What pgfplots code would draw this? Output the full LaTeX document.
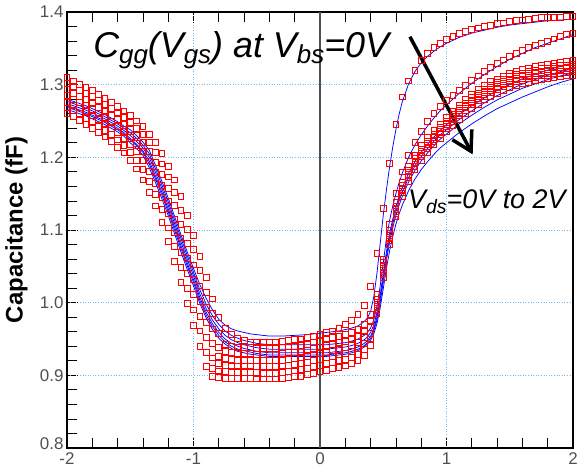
\documentclass[border=0pt]{standalone}
\usepackage{fontspec}
\setmainfont{Liberation Sans}
\usepackage{pgfplots}
\usepackage{pgfplotstable}
\pgfplotsset{compat=1.18}
\usetikzlibrary{arrows.meta}

\definecolor{gridblue}{RGB}{110,190,240}
\definecolor{ticklab}{RGB}{80,80,80}
\definecolor{zeroline}{RGB}{80,80,80}
\newcommand{\subT}[1]{\raisebox{-6.5pt}{\fontsize{26}{26}\selectfont #1}}
\newcommand{\subV}[1]{\raisebox{-5pt}{\fontsize{19.5}{19.5}\selectfont #1}}

% measured Cgg (squares), Vds = 0 ... 2 V
\pgfplotstableread{
x     r0    r1    r2    r3    r4    r5    r6
-2.00 1.310 1.302 1.293 1.285 1.276 1.268 1.260
-1.95 1.305 1.297 1.288 1.280 1.272 1.264 1.256
-1.90 1.300 1.292 1.284 1.276 1.268 1.260 1.251
-1.85 1.296 1.288 1.280 1.272 1.263 1.254 1.245
-1.80 1.292 1.284 1.275 1.266 1.257 1.249 1.240
-1.75 1.287 1.278 1.269 1.261 1.252 1.243 1.234
-1.70 1.281 1.273 1.264 1.255 1.246 1.237 1.228
-1.65 1.276 1.267 1.258 1.249 1.240 1.231 1.222
-1.60 1.270 1.261 1.252 1.243 1.234 1.224 1.214
-1.55 1.264 1.255 1.246 1.236 1.226 1.216 1.206
-1.50 1.258 1.248 1.238 1.228 1.218 1.207 1.196
-1.45 1.250 1.240 1.230 1.219 1.208 1.196 1.184
-1.40 1.242 1.231 1.220 1.208 1.196 1.183 1.169
-1.35 1.232 1.220 1.208 1.195 1.181 1.167 1.152
-1.30 1.220 1.207 1.193 1.179 1.164 1.149 1.133
-1.25 1.205 1.191 1.176 1.161 1.145 1.128 1.110
-1.20 1.188 1.173 1.157 1.140 1.122 1.103 1.084
-1.15 1.169 1.152 1.134 1.115 1.096 1.077 1.057
-1.10 1.146 1.127 1.108 1.089 1.069 1.049 1.028
-1.05 1.120 1.101 1.081 1.061 1.040 1.020 0.999
-1.00 1.093 1.073 1.052 1.032 1.011 0.990 0.969
-0.95 1.064 1.044 1.023 1.002 0.981 0.961 0.940
-0.90 1.035 1.014 0.993 0.973 0.952 0.932 0.912
-0.85 1.005 0.985 0.964 0.944 0.924 0.909 0.899
-0.80 0.980 0.958 0.938 0.926 0.916 0.906 0.897
-0.75 0.965 0.943 0.933 0.923 0.914 0.905 0.896
-0.70 0.956 0.940 0.931 0.922 0.913 0.904 0.896
-0.65 0.951 0.939 0.930 0.921 0.913 0.904 0.896
-0.60 0.948 0.938 0.930 0.921 0.913 0.904 0.896
-0.55 0.946 0.938 0.930 0.921 0.913 0.904 0.896
-0.50 0.946 0.937 0.929 0.920 0.912 0.904 0.895
-0.45 0.946 0.937 0.929 0.920 0.912 0.903 0.895
-0.40 0.946 0.937 0.929 0.920 0.912 0.903 0.895
-0.35 0.946 0.937 0.929 0.920 0.912 0.903 0.895
-0.30 0.947 0.938 0.930 0.921 0.913 0.904 0.896
-0.25 0.948 0.939 0.931 0.922 0.914 0.905 0.897
-0.20 0.949 0.940 0.932 0.923 0.915 0.906 0.898
-0.15 0.950 0.941 0.933 0.924 0.916 0.908 0.899
-0.10 0.952 0.943 0.935 0.926 0.918 0.910 0.901
-0.05 0.954 0.945 0.937 0.928 0.920 0.912 0.903
0.00  0.956 0.947 0.939 0.930 0.922 0.914 0.905
0.05  0.959 0.950 0.941 0.932 0.924 0.916 0.907
0.10  0.961 0.952 0.943 0.934 0.926 0.918 0.909
0.15  0.965 0.954 0.945 0.936 0.928 0.920 0.911
0.20  0.970 0.956 0.947 0.938 0.930 0.922 0.913
0.25  0.976 0.959 0.950 0.941 0.933 0.925 0.916
0.30  0.984 0.963 0.954 0.945 0.937 0.929 0.920
0.35  0.996 0.970 0.961 0.952 0.944 0.936 0.927
0.40  1.022 0.984 0.975 0.966 0.958 0.950 0.941
0.45  1.068 1.012 1.005 1.000 0.995 0.990 0.985
0.50  1.130 1.060 1.055 1.050 1.045 1.040 1.035
0.55  1.192 1.108 1.100 1.095 1.090 1.085 1.080
0.60  1.245 1.150 1.138 1.133 1.128 1.123 1.118
0.65  1.283 1.180 1.166 1.161 1.156 1.151 1.146
0.70  1.305 1.203 1.187 1.182 1.177 1.172 1.167
0.75  1.320 1.221 1.203 1.198 1.193 1.188 1.183
0.80  1.333 1.236 1.216 1.211 1.206 1.201 1.196
0.85  1.343 1.249 1.227 1.222 1.217 1.212 1.207
0.90  1.351 1.260 1.237 1.232 1.227 1.222 1.217
0.95  1.357 1.270 1.246 1.241 1.236 1.231 1.226
1.00  1.362 1.278 1.255 1.250 1.245 1.240 1.235
1.05  1.366 1.285 1.264 1.259 1.254 1.249 1.244
1.10  1.370 1.292 1.272 1.267 1.262 1.257 1.252
1.15  1.373 1.299 1.280 1.275 1.270 1.265 1.260
1.20  1.376 1.306 1.287 1.282 1.277 1.272 1.267
1.25  1.378 1.312 1.293 1.288 1.283 1.278 1.273
1.30  1.380 1.318 1.299 1.294 1.289 1.284 1.279
1.35  1.382 1.324 1.304 1.299 1.294 1.289 1.284
1.40  1.384 1.329 1.308 1.303 1.298 1.293 1.288
1.45  1.385 1.334 1.312 1.307 1.302 1.297 1.292
1.50  1.387 1.339 1.316 1.311 1.306 1.301 1.296
1.55  1.388 1.343 1.319 1.314 1.309 1.304 1.299
1.60  1.389 1.347 1.321 1.316 1.311 1.306 1.301
1.65  1.390 1.351 1.323 1.318 1.313 1.308 1.303
1.70  1.391 1.354 1.325 1.320 1.315 1.310 1.305
1.75  1.392 1.357 1.327 1.322 1.317 1.312 1.307
1.80  1.392 1.360 1.328 1.323 1.318 1.313 1.308
1.85  1.393 1.363 1.330 1.325 1.320 1.315 1.310
1.90  1.393 1.366 1.331 1.326 1.321 1.316 1.311
1.95  1.394 1.369 1.332 1.327 1.322 1.317 1.312
2.00  1.394 1.371 1.333 1.328 1.323 1.318 1.313
}\redtab

% model Cgg (lines)
\pgfplotstableread{
x     b0    b1    b2    b3    b4    b5
-2.00 1.280 1.277 1.274 1.271 1.269 1.266
-1.95 1.277 1.274 1.271 1.268 1.266 1.263
-1.90 1.274 1.271 1.268 1.265 1.263 1.260
-1.85 1.271 1.268 1.265 1.262 1.260 1.257
-1.80 1.267 1.264 1.261 1.258 1.256 1.253
-1.75 1.263 1.260 1.257 1.254 1.252 1.249
-1.70 1.259 1.256 1.253 1.250 1.248 1.245
-1.65 1.254 1.251 1.248 1.245 1.243 1.240
-1.60 1.249 1.246 1.243 1.240 1.238 1.235
-1.55 1.243 1.240 1.237 1.234 1.232 1.229
-1.50 1.238 1.234 1.230 1.226 1.224 1.220
-1.45 1.230 1.226 1.222 1.218 1.216 1.212
-1.40 1.221 1.217 1.213 1.209 1.207 1.203
-1.35 1.210 1.205 1.200 1.195 1.191 1.186
-1.30 1.189 1.184 1.179 1.174 1.170 1.165
-1.25 1.167 1.162 1.157 1.152 1.148 1.143
-1.20 1.144 1.139 1.134 1.129 1.125 1.120
-1.15 1.119 1.114 1.109 1.104 1.100 1.095
-1.10 1.094 1.089 1.084 1.079 1.075 1.070
-1.05 1.070 1.065 1.060 1.055 1.051 1.046
-1.00 1.047 1.042 1.037 1.032 1.028 1.023
-0.95 1.025 1.018 1.012 1.007 1.003 0.999
-0.90 1.006 0.998 0.992 0.987 0.983 0.979
-0.85 0.990 0.982 0.976 0.971 0.967 0.963
-0.80 0.977 0.970 0.964 0.959 0.955 0.951
-0.75 0.969 0.961 0.955 0.950 0.946 0.943
-0.70 0.964 0.955 0.949 0.944 0.940 0.937
-0.65 0.961 0.951 0.945 0.940 0.936 0.933
-0.60 0.959 0.948 0.942 0.937 0.934 0.931
-0.55 0.957 0.946 0.940 0.935 0.932 0.929
-0.50 0.956 0.944 0.938 0.933 0.930 0.928
-0.45 0.955 0.943 0.937 0.932 0.929 0.927
-0.40 0.954 0.942 0.936 0.931 0.928 0.926
-0.30 0.954 0.942 0.936 0.931 0.928 0.926
-0.20 0.955 0.942 0.936 0.931 0.928 0.926
-0.10 0.956 0.942 0.936 0.931 0.928 0.926
0.00  0.958 0.942 0.936 0.931 0.928 0.926
0.05  0.959 0.942 0.936 0.931 0.928 0.926
0.10  0.960 0.943 0.937 0.932 0.929 0.927
0.15  0.961 0.944 0.938 0.933 0.930 0.928
0.20  0.963 0.945 0.939 0.934 0.931 0.929
0.25  0.965 0.947 0.941 0.936 0.933 0.931
0.30  0.968 0.950 0.944 0.939 0.936 0.934
0.35  0.974 0.955 0.949 0.944 0.941 0.939
0.375 0.979 0.959 0.953 0.948 0.945 0.943
0.40  0.988 0.965 0.959 0.954 0.951 0.948
0.425 1.008 0.976 0.969 0.964 0.961 0.957
0.45  1.040 0.995 0.986 0.980 0.976 0.971
0.475 1.080 1.022 1.010 1.004 0.999 0.992
0.50  1.120 1.055 1.040 1.034 1.028 1.019
0.525 1.155 1.088 1.070 1.064 1.058 1.047
0.55  1.187 1.113 1.095 1.089 1.083 1.071
0.575 1.214 1.133 1.115 1.109 1.103 1.091
0.60  1.238 1.150 1.132 1.126 1.120 1.108
0.625 1.259 1.165 1.146 1.140 1.134 1.122
0.65  1.276 1.178 1.158 1.152 1.146 1.134
0.70  1.301 1.200 1.178 1.172 1.166 1.154
0.75  1.318 1.217 1.194 1.188 1.182 1.170
0.80  1.330 1.231 1.207 1.201 1.195 1.183
0.85  1.339 1.243 1.218 1.212 1.206 1.194
0.90  1.346 1.254 1.228 1.222 1.216 1.204
0.95  1.352 1.264 1.237 1.231 1.225 1.213
1.00  1.357 1.272 1.245 1.238 1.232 1.220
1.10  1.365 1.288 1.259 1.252 1.246 1.234
1.20  1.371 1.302 1.271 1.264 1.258 1.246
1.30  1.375 1.314 1.282 1.275 1.269 1.257
1.40  1.379 1.325 1.292 1.285 1.279 1.267
1.50  1.382 1.335 1.300 1.293 1.287 1.275
1.60  1.384 1.343 1.308 1.301 1.295 1.283
1.70  1.386 1.351 1.314 1.307 1.301 1.290
1.80  1.388 1.357 1.320 1.313 1.307 1.297
1.90  1.389 1.363 1.325 1.318 1.312 1.303
2.00  1.390 1.369 1.330 1.322 1.316 1.308
}\bluetab

\begin{document}
\begin{tikzpicture}
\useasboundingbox (-67bp,-21bp) rectangle (515bp,448bp);
\begin{axis}[
  at={(0,0)}, anchor=south west,
  scale only axis, width=506bp, height=436bp,
  xmin=-2, xmax=2, ymin=0.8, ymax=1.4,
  xtick={-2,-1,0,1,2}, xticklabels={-2,-1,0,1,2},
  ytick={0.8,0.9,1.0,1.1,1.2,1.3,1.4},
  yticklabels={\raisebox{9pt}{0.8},0.9,1.0,1.1,1.2,1.3,1.4},
  minor x tick num=4, minor y tick num=4,
  xtick pos=both, ytick pos=left,
  tick align=inside,
  major tick length=10bp, minor tick length=10bp,
  major tick style={black, densely dotted, line width=0.8pt},
  minor tick style={black, line width=0.8pt},
  grid=major,
  major grid style={gridblue, dash pattern=on 1pt off 1.6pt, line width=0.9pt},
  axis line style={black, line width=1.4pt},
  tick label style={font=\fontsize{17}{17}\selectfont, text=ticklab},
  xticklabel style={yshift=-1pt},
  ylabel={Capacitance (fF)},
  ylabel style={font=\fontsize{24}{24}\selectfont\bfseries,
    at={(axis description cs:-0.1,0.5)}, anchor=center},
]
\foreach \c in {r0,r1,r2,r3,r4,r5,r6}{
  \addplot[only marks, mark=square, red, mark size=2.9pt,
    mark options={line width=0.85pt}] table[x=x, y=\c] {\redtab};
}
\draw[zeroline, line width=1.3pt] (axis cs:0,0.8) -- (axis cs:0,1.4);
\foreach \c in {b0,b1,b2,b3,b4,b5}{
  \addplot[blue, line width=0.75pt, no marks] table[x=x, y=\c] {\bluetab};
}
\node[anchor=base west, inner sep=0pt, font=\fontsize{36}{36}\selectfont\itshape]
  at (axis cs:-1.794,1.338)
  {C\subT{gg}(V\subT{gs}) at V\subT{bs}=0V};
\node[anchor=base west, inner sep=0pt, font=\fontsize{27}{27}\selectfont\itshape]
  at (axis cs:0.696,1.130)
  {V\subV{ds}=0V to 2V};
\draw[line width=3.5bp, -{Straight Barb[length=19bp, width=22bp]}]
  (axis cs:0.711,1.366) -- (axis cs:1.207,1.204);
\end{axis}
\end{tikzpicture}
\end{document}
